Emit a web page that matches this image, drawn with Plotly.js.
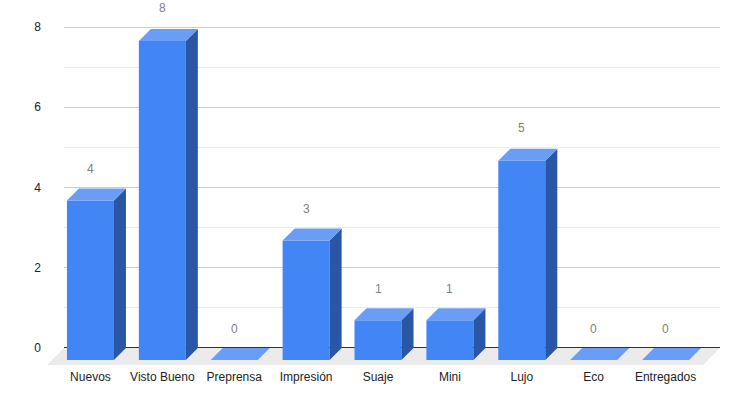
<!DOCTYPE html>
<html>
<head>
<meta charset="utf-8">
<script src="https://cdn.plot.ly/plotly-3.0.1.min.js"></script>
<style>html,body{margin:0;padding:0;background:#fff;}#chart{width:740px;height:406px;}</style>
</head>
<body>
<div id="chart"></div>
<script>
// ---- data ----
const categories = ["Nuevos", "Visto Bueno", "Preprensa", "Impresión", "Suaje", "Mini", "Lujo", "Eco", "Entregados"];
const values = [4, 8, 0, 3, 1, 1, 5, 0, 0];
const yTickVals = [0, 2, 4, 6, 8];
const yTickText = ["0", "2", "4", "6", "8"];

// ---- style / geometry (pixels) ----
const W = 740, H = 406;
const PAD = 2;                       // extra px around the value range so edge gridlines show
const M = {l: 52, r: 20, t: 27 - PAD, b: 46};
const PW = W - M.l - M.r;            // 668
const PH = H - M.t - M.b;            // 335
const DEPTH = 12;                    // 3D offset of bars (px)
const FLOOR = 17;                    // floor depth (px)
const Y_TOP = 8;
const pxPerUnit = (PH - DEPTH - 2 * PAD) / Y_TOP;
const padUnits = PAD / pxPerUnit;
const dyUnits = DEPTH / pxPerUnit;
const X_RANGE = [-0.535, 8.59];
const BAR_PX = 47;
const slotPx = (PW - DEPTH) / (X_RANGE[1] - X_RANGE[0]);
const BAR_W = BAR_PX / slotPx;
const half = BAR_PX / 2;

const FRONT = '#4285f4', TOP = '#6a9df6', SIDE = '#2a56a6';

const frontTrace = {
  type: 'bar', x: categories, y: values, xaxis: 'x2', yaxis: 'y2',
  width: BAR_W, marker: {color: FRONT, line: {width: 0}},
  hoverinfo: 'x+y', showlegend: false
};
const dummy = {type: 'scatter', x: [], y: [], xaxis: 'x', yaxis: 'y', showlegend: false};

const shapes = [];
// floor
const fx = FLOOR / (PW - DEPTH);
shapes.push({
  type: 'path', layer: 'below', xref: 'x domain', yref: 'y domain',
  ysizemode: 'pixel', yanchor: padUnits / (Y_TOP + 2 * padUnits),
  path: `M 0,0 L 1,0 L ${1 - fx},${-FLOOR} L ${-fx},${-FLOOR} Z`,
  fillcolor: '#ebebeb', line: {width: 0}
});
values.forEach((v, i) => {
  // side face
  shapes.push({
    type: 'path', layer: 'above', xref: 'x2', yref: 'y2',
    xsizemode: 'pixel', xanchor: i,
    path: `M ${half},0 L ${half + DEPTH},${dyUnits} L ${half + DEPTH},${v + dyUnits} L ${half},${v} Z`,
    fillcolor: SIDE, line: {width: 0}
  });
  // top face
  shapes.push({
    type: 'path', layer: 'above', xref: 'x2', yref: 'y2',
    xsizemode: 'pixel', xanchor: i,
    path: `M ${-half},${v} L ${half},${v} L ${half + DEPTH},${v + dyUnits} L ${-half + DEPTH},${v + dyUnits} Z`,
    fillcolor: TOP, line: {width: 0}
  });
});

const annotations = values.map((v, i) => ({
  xref: 'x2', yref: 'y', x: i, y: v, yshift: 19,
  text: String(v), showarrow: false, xanchor: 'center', yanchor: 'middle',
  font: {family: 'Liberation Sans, Arial, sans-serif', size: 12, color: '#808080'}
}));

const layout = {
  width: W, height: H, margin: M,
  paper_bgcolor: '#fff', plot_bgcolor: 'rgba(0,0,0,0)',
  font: {family: 'Liberation Sans, Arial, sans-serif', size: 12, color: '#222'},
  showlegend: false,
  xaxis: {domain: [DEPTH / PW, 1], anchor: 'y', range: [0, 1], showgrid: false,
          zeroline: false, showticklabels: false, ticks: '', fixedrange: true},
  yaxis: {domain: [(DEPTH - PAD) / PH, 1], anchor: 'x', range: [-padUnits, Y_TOP + padUnits],
          tickvals: yTickVals, ticktext: yTickText, ticks: '',
          showgrid: true, gridcolor: '#cccccc', gridwidth: 1,
          minor: {dtick: 1, tick0: 0, showgrid: true, gridcolor: '#ebebeb', gridwidth: 1, ticks: ''},
          zeroline: true, zerolinecolor: '#333333', zerolinewidth: 1,
          ticklabelstandoff: 22, tickfont: {size: 12, color: '#222'}, fixedrange: true},
  xaxis2: {domain: [0, 1 - DEPTH / PW], anchor: 'y2', type: 'category', range: X_RANGE,
           showgrid: false, zeroline: false, ticks: '', ticklabelstandoff: 8,
           tickfont: {size: 12, color: '#222'}, fixedrange: true},
  yaxis2: {domain: [0, 1], anchor: 'x2', range: [0, (PH) / pxPerUnit], visible: false, fixedrange: true},
  shapes: shapes,
  annotations: annotations
};

Plotly.newPlot('chart', [dummy, frontTrace], layout, {displayModeBar: false, staticPlot: true});
</script>
</body>
</html>
